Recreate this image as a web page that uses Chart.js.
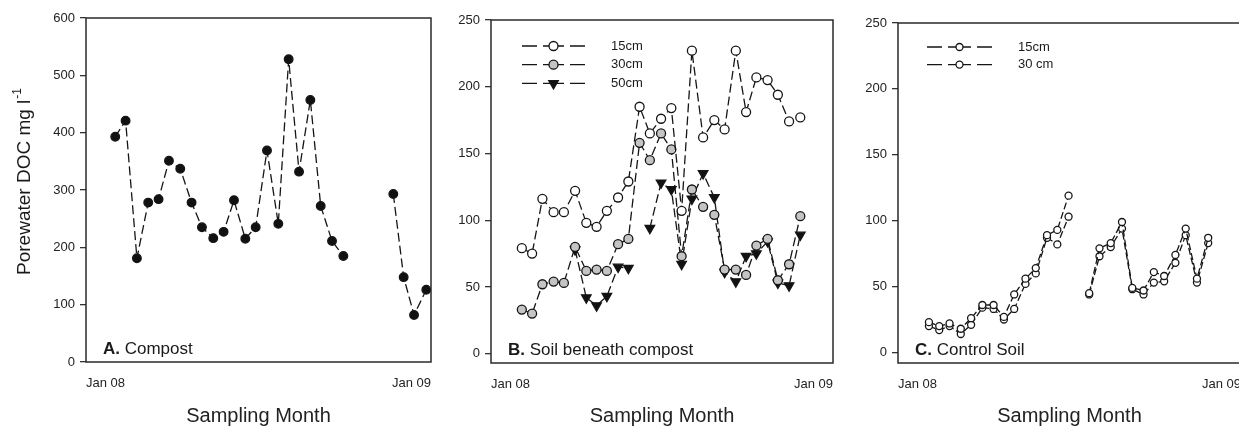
<!DOCTYPE html>
<html>
<head>
<meta charset="utf-8">
<script src="https://cdn.jsdelivr.net/npm/chart.js@4.4.1/dist/chart.umd.min.js"></script>
<style>
  html, body { margin: 0; padding: 0; background: #fff; overflow: hidden; }
  #page { position: relative; width: 1239px; height: 428px; overflow: hidden; background: #fff; }
  canvas { position: absolute; top: 0; }
</style>
</head>
<body>
<div id="page">
  <canvas id="chart-a" width="445" height="428" style="left:0"></canvas>
  <canvas id="chart-b" width="400" height="428" style="left:445px"></canvas>
  <canvas id="chart-c" width="400" height="428" style="left:850px"></canvas>
</div>
<script>
// day of year for each sample, Jan 08 = 0
const compostDays = [31, 42, 54, 66, 77, 88, 100, 112, 123, 135, 146, 157, 169, 180, 192, 204, 215, 226, 238, 249, 261, 273, 299, 326, 337, 348, 361];
const compostDOC = [393, 421, 181, 278, 284, 351, 337, 278, 235, 216, 227, 282, 215, 235, 369, 241, 528, 332, 457, 272, 211, 185, null, 293, 148, 82, 126];

const sampleDays = [33, 44, 55, 67, 78, 90, 102, 113, 124, 136, 147, 159, 170, 182, 193, 204, 215, 227, 239, 250, 262, 273, 284, 296, 307, 319, 331];
const soil15 = [79, 75, 116, 106, 106, 122, 98, 95, 107, 117, 129, 185, 165, 176, 184, 107, 227, 162, 175, 168, 227, 181, 207, 205, 194, 174, 177];
const soil30 = [33, 30, 52, 54, 53, 80, 62, 63, 62, 82, 86, 158, 145, 165, 153, 73, 123, 110, 104, 63, 63, 59, 81, 86, 55, 67, 103];
const soil50 = [null, null, null, null, null, 78, 42, 36, 43, 65, 64, null, 94, 128, 123, 67, 116, 135, 117, 61, 54, 73, 75, 84, 53, 51, 89];
const control15 = [23, 20, 22, 18, 26, 36, 36, 27, 44, 56, 64, 89, 93, 119, null, 45, 79, 83, 99, 49, 47, 61, 58, 74, 94, 56, 87];
const control30 = [20, 17, 20, 14, 21, 34, 33, 25, 33, 52, 60, 87, 82, 103, null, 44, 73, 80, 94, 48, 44, 53, 54, 68, 89, 53, 83];

const xTickLabels = ['Jan 08', 'Jan 09'];
const compostTicks = [0, 100, 200, 300, 400, 500, 600];
const soilTicks = [0, 50, 100, 150, 200, 250];

Chart.defaults.font.family = '"Liberation Sans", Arial, sans-serif';
Chart.defaults.color = '#222';

function pts(days, vals) {
  return days.map((d, i) => ({ x: d, y: vals[i] }));
}

function series(label, days, vals, style) {
  return Object.assign({
    label: label,
    data: pts(days, vals),
    borderColor: '#151515',
    borderWidth: 1.3,
    borderDash: [9, 4],
    pointBorderColor: '#151515',
    pointBorderWidth: 1.3,
    tension: 0,
    spanGaps: false,
    fill: false
  }, style);
}

// box, panel label, legend and y title
const panelDeco = {
  id: 'panelDeco',
  afterDraw(chart, args, opts) {
    const ctx = chart.ctx;
    const a = chart.chartArea;
    ctx.save();
    ctx.strokeStyle = '#2a2a2a';
    ctx.lineWidth = 1.5;
    ctx.strokeRect(a.left, a.top, a.right - a.left, a.bottom - a.top);

    ctx.fillStyle = '#1a1a1a';
    ctx.textBaseline = 'alphabetic';
    ctx.font = 'bold 17px "Liberation Sans", Arial, sans-serif';
    const lx = a.left + 17, ly = a.bottom - 8;
    ctx.fillText(opts.tag, lx, ly);
    const w = ctx.measureText(opts.tag).width;
    ctx.font = '17px "Liberation Sans", Arial, sans-serif';
    ctx.fillText(' ' + opts.name, lx + w, ly);

    if (opts.legend) {
      const lg = opts.legend;
      chart.data.datasets.forEach((ds, i) => {
        const y = a.top + lg.y0 + i * lg.dy;
        const x0 = a.left + lg.x0, x1 = a.left + lg.x1;
        ctx.strokeStyle = '#151515';
        ctx.lineWidth = 1.3;
        ctx.setLineDash([]);
        ctx.beginPath();
        ctx.moveTo(x0, y); ctx.lineTo(x0 + 15, y);
        ctx.moveTo(x0 + 21, y); ctx.lineTo(x1 - 21, y);
        ctx.moveTo(x1 - 15, y); ctx.lineTo(x1, y);
        ctx.stroke();
        ctx.fillStyle = ds.pointBackgroundColor;
        Chart.helpers.drawPoint(ctx, {
          pointStyle: ds.pointStyle,
          rotation: ds.pointRotation || 0,
          radius: lg.radius || ds.pointRadius,
          borderWidth: 1.3
        }, (x0 + x1) / 2, y);
        ctx.fillStyle = '#1a1a1a';
        ctx.font = '13px "Liberation Sans", Arial, sans-serif';
        ctx.textBaseline = 'middle';
        ctx.fillText(ds.label, a.left + lg.textX, y);
      });
    }

    if (opts.yTitle) {
      const t = opts.yTitle;
      ctx.translate(t.x, t.y);
      ctx.rotate(-Math.PI / 2);
      ctx.fillStyle = '#1a1a1a';
      ctx.textBaseline = 'middle';
      ctx.font = '19px "Liberation Sans", Arial, sans-serif';
      const w1 = ctx.measureText(t.text).width;
      ctx.font = '12px "Liberation Sans", Arial, sans-serif';
      const w2 = ctx.measureText(t.sup).width;
      const start = -(w1 + w2) / 2;
      ctx.font = '19px "Liberation Sans", Arial, sans-serif';
      ctx.fillText(t.text, start, 0);
      ctx.font = '12px "Liberation Sans", Arial, sans-serif';
      ctx.fillText(t.sup, start + w1 + 1, -7);
    }
    ctx.restore();
  }
};

function scalesFor(yMin, yMax, yTicks, yWidth, xHeight) {
  return {
    x: {
      type: 'linear',
      min: 0,
      max: 366,
      afterBuildTicks: s => { s.ticks = [{ value: 0 }, { value: 366 }]; },
      afterFit: s => { s.height = xHeight; s.paddingLeft = 0; s.paddingRight = 0; },
      ticks: {
        align: 'inner',
        maxRotation: 0,
        autoSkip: false,
        padding: 14,
        font: { size: 13 },
        callback: (v, i) => xTickLabels[i]
      },
      grid: { display: false, drawTicks: false },
      border: { display: false },
      title: { display: true, text: 'Sampling Month', font: { size: 20 }, padding: 0 }
    },
    y: {
      min: yMin,
      max: yMax,
      afterBuildTicks: s => { s.ticks = yTicks.map(v => ({ value: v })); },
      afterFit: s => { s.width = yWidth; },
      ticks: { padding: 5, font: { size: 13 } },
      grid: { drawOnChartArea: false, tickLength: 6, color: '#333', lineWidth: 1.3 },
      border: { display: false }
    }
  };
}

function makeChart(id, datasets, scales, padding, deco) {
  return new Chart(document.getElementById(id).getContext('2d'), {
    type: 'line',
    data: { datasets: datasets },
    options: {
      responsive: false,
      animation: false,
      layout: { padding: padding },
      scales: scales,
      plugins: {
        legend: { display: false },
        tooltip: { enabled: false },
        panelDeco: deco
      }
    },
    plugins: [panelDeco]
  });
}

makeChart('chart-a', [
  series('Compost', compostDays, compostDOC, {
    pointStyle: 'circle', pointRadius: 4.3, pointBackgroundColor: '#111'
  })
], scalesFor(0, 600, compostTicks, 86, 66), { left: 0, top: 18, right: 14, bottom: 0 }, {
  tag: 'A.', name: 'Compost',
  yTitle: { text: 'Porewater DOC mg l', sup: '-1', x: 25, y: 182 }
});

makeChart('chart-b', [
  series('15cm', sampleDays, soil15, {
    pointStyle: 'circle', pointRadius: 4.5, pointBackgroundColor: '#fff'
  }),
  series('30cm', sampleDays, soil30, {
    pointStyle: 'circle', pointRadius: 4.5, pointBackgroundColor: '#c4c4c4'
  }),
  series('50cm', sampleDays, soil50, {
    pointStyle: 'triangle', pointRotation: 180, pointRadius: 5.5, pointBackgroundColor: '#111'
  })
], scalesFor(-7, 250, soilTicks, 46, 65), { left: 0, top: 20, right: 12, bottom: 0 }, {
  tag: 'B.', name: 'Soil beneath compost',
  legend: { x0: 31, x1: 94, textX: 120, y0: 26, dy: 18.7 }
});

makeChart('chart-c', [
  series('15cm', sampleDays, control15, {
    pointStyle: 'circle', pointRadius: 3.5, pointBackgroundColor: '#fff', borderDash: [7, 3]
  }),
  series('30 cm', sampleDays, control30, {
    pointStyle: 'circle', pointRadius: 3.5, pointBackgroundColor: '#fff', borderDash: [7, 3]
  })
], scalesFor(-8, 250, soilTicks, 48, 65), { left: 0, top: 23, right: 9, bottom: 0 }, {
  tag: 'C.', name: 'Control Soil',
  legend: { x0: 29, x1: 94, textX: 120, y0: 24, dy: 17.6, radius: 3.5 }
});
</script>
</body>
</html>
